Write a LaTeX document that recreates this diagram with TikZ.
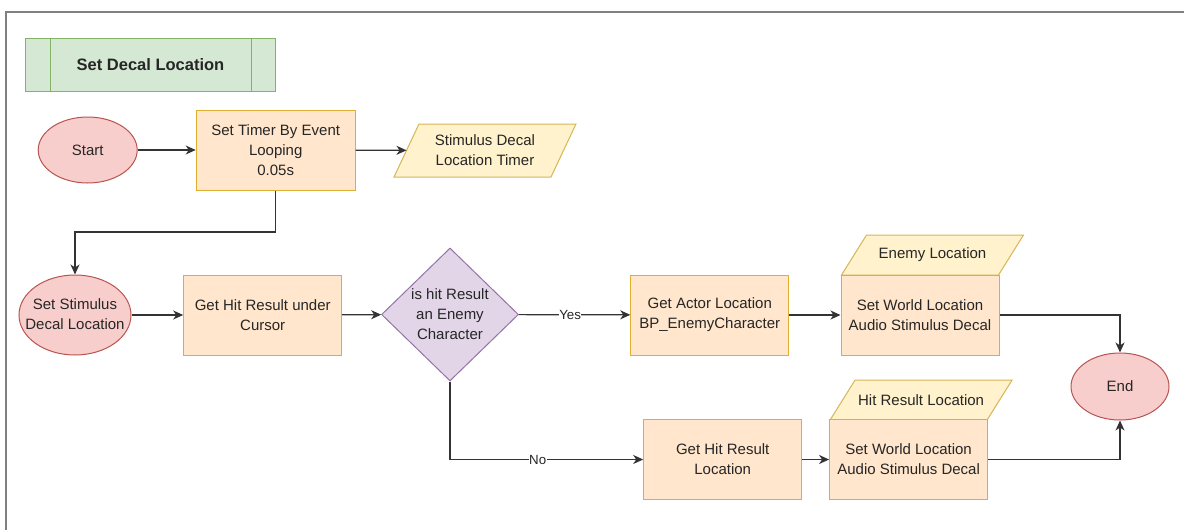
\documentclass[tikz,border=0pt]{standalone}
\usepackage{fontspec}
\setmainfont{Liberation Sans}
\usetikzlibrary{arrows.meta,shapes.geometric,backgrounds}

\definecolor{greenfill}{HTML}{D5E8D4}
\definecolor{greenline}{HTML}{82B366}
\definecolor{redfill}{HTML}{F8CECC}
\definecolor{redline}{HTML}{B85450}
\definecolor{orangefill}{HTML}{FFE6CC}
\definecolor{orangeline}{HTML}{D79B00}
\definecolor{yellowfill}{HTML}{FFF2CC}
\definecolor{yellowline}{HTML}{D6B656}
\definecolor{purplefill}{HTML}{E1D5E7}
\definecolor{purpleline}{HTML}{9673A6}

\begin{document}
\begin{tikzpicture}[x=1pt, y=-1pt, every node/.style={font=\fontsize{15}{20}\selectfont, align=center, text=black!85}]
        \useasboundingbox (0,0) rectangle (1184,530);
        \tikzset{stepbox/.style={rectangle, draw=orangeline!80, fill=orangefill, line width=1pt, minimum width=158pt, minimum height=80pt, inner sep=0pt}}
        \tikzset{startend/.style={ellipse, draw=redline, fill=redfill, line width=1pt, inner sep=0pt}}
        \tikzset{decision/.style={diamond, draw=purpleline, fill=purplefill, line width=1pt, minimum width=137pt, minimum height=133pt, inner sep=0pt, aspect=1.03}}
        \tikzset{datavar/.style={rectangle, minimum width=157pt, inner sep=0pt, outer sep=0pt}}
        \tikzset{titlebox/.style={rectangle, draw=greenline, fill=greenfill, line width=1pt, minimum width=250pt, minimum height=53pt, font=\fontsize{16.5}{20}\selectfont\bfseries}}
        % frame
        \draw[gray, line width=2pt] (6,530) -- (6,11.5) -- (1184,11.5);
        \node[titlebox] (title) at (150.5,64.5) {Set Decal Location};
        \draw[greenline, line width=1pt] ([xshift=25pt]title.north west) -- ([xshift=25pt]title.south west);
        \draw[greenline, line width=1pt] ([xshift=-25pt]title.north east) -- ([xshift=-25pt]title.south east);
        % top row
        \node[startend, minimum width=99pt, minimum height=66pt] (start) at (87.7,150) {Start};
        \node[stepbox, minimum width=159pt] (timer) at (275.7,150) {Set Timer By Event\\Looping\\0.05s};
        \node[datavar, minimum height=53pt] (timervar) at (485,150.5) {Stimulus Decal\\Location Timer};
        % middle row
        \node[startend, minimum width=112pt, minimum height=80pt] (setstim) at (75,315) {\makebox[0pt]{\begin{tabular}{@{}c@{}}Set Stimulus\\Decal Location\end{tabular}}};
        \node[stepbox] (hitcursor) at (262.7,315) {Get Hit Result under\\Cursor};
        \node[decision] (ishit) at (450,314.5) {is hit Result\\an Enemy\\Character};
        \node[stepbox] (actorloc) at (709.8,315) {Get Actor Location\\BP\_EnemyCharacter};
        \node[stepbox] (setworldA) at (920,315) {Set World Location\\Audio Stimulus Decal};
        \node[datavar, minimum height=40pt] (enemyloc) at (932.5,255) {Enemy Location};
        \node[startend, minimum width=98pt, minimum height=67pt] (finish) at (1120,386.5) {End};
        % bottom row
        \node[stepbox] (hitloc) at (722.7,459.5) {Get Hit Result\\Location};
        \node[stepbox] (setworldB) at (908.6,459.5) {Set World Location\\Audio Stimulus Decal};
        \node[datavar, minimum height=40pt] (hitresloc) at (921.1,400) {Hit Result Location};
        \begin{scope}[on background layer]
          \foreach \v in {timervar, enemyloc, hitresloc}
            \draw[draw=yellowline, fill=yellowfill, line width=1pt] ([xshift=-12.5pt]\v.south west) -- ([xshift=12.5pt]\v.north west) -- ([xshift=12.5pt]\v.north east) -- ([xshift=-12.5pt]\v.south east) -- cycle;
        \end{scope}
        \tikzset{flow/.style={->, >={Stealth[length=10pt, width=9pt, inset=3pt]}, line width=1.2pt, black!80}};
        \tikzset{flowlabel/.style={fill=white, inner sep=0.5pt, font=\fontsize{13.3}{16}\selectfont}};
        \coordinate (loopturn) at (275.7,232);
        \draw[flow] (start) -- (timer);
        \draw[flow] (timer) -- (timervar);
        \draw[flow] (timer.south) -- (loopturn) -| (setstim.north);
        \draw[flow] (setstim) -- (hitcursor);
        \draw[flow] (hitcursor) -- (ishit);
        \draw[flow] (ishit) -- node[pos=0.46, flowlabel] {Yes} (actorloc);
        \draw[flow] (ishit.south) |- node[pos=0.727, flowlabel] {No} (hitloc.west);
        \draw[flow] (actorloc) -- (setworldA);
        \draw[flow] (setworldA.east) -| (finish.north);
        \draw[flow] (hitloc) -- (setworldB);
        \draw[flow] (setworldB.east) -| (finish.south);
      \end{tikzpicture}
\end{document}
